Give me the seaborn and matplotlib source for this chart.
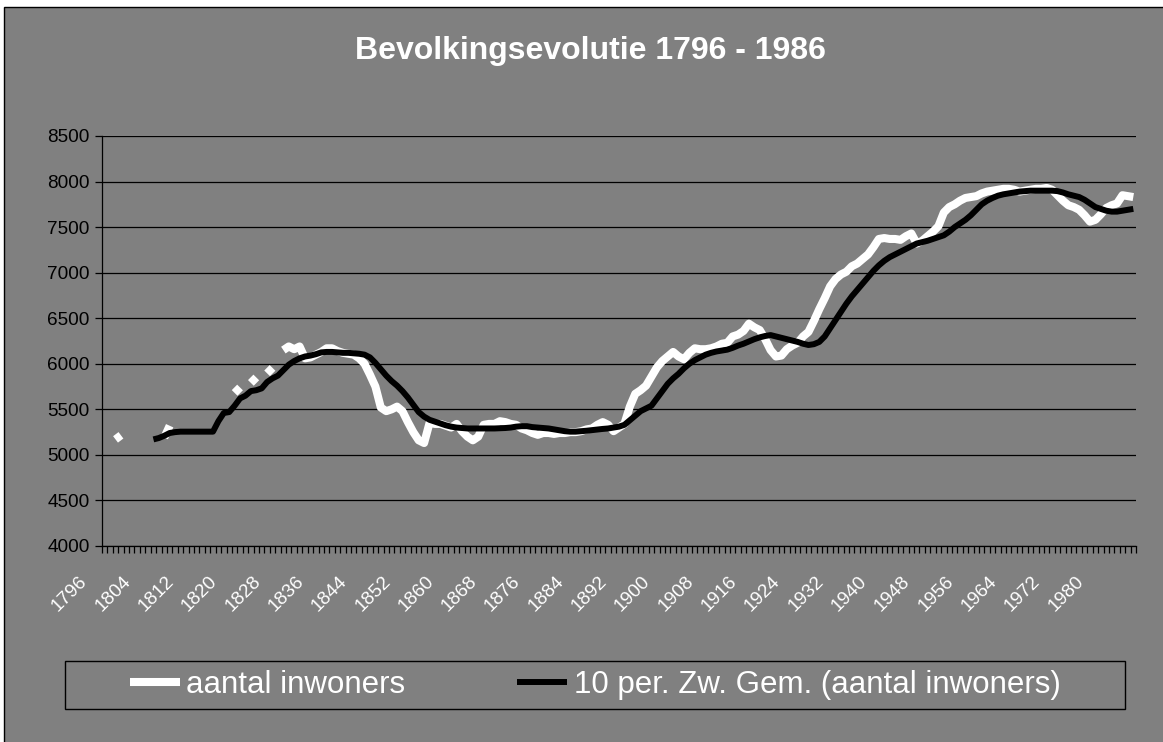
import matplotlib
matplotlib.use('Agg')
import matplotlib.pyplot as plt
from matplotlib.lines import Line2D
from matplotlib.patches import Rectangle
from matplotlib.transforms import ScaledTranslation
import numpy as np
import pandas as pd
import seaborn as sns

years = list(range(1796, 1987))

# aantal inwoners per jaar (None = geen waarde)
inwoners = [
    None, None, 5170, 5215, None, None, None, None, None, None,
    None, 5190, 5320, None, None, None, None, None, None, None,
    None, None, None, None, 5680, 5740, None, 5790, 5850, None,
    5895, 5955, None, 6150, 6190, 6160, 6190, 6060, 6070, 6100,
    6130, 6170, 6170, 6140, 6120, 6110, 6100, 6060, 6000, 5880,
    5750, 5520, 5480, 5500, 5530, 5480, 5360, 5250, 5160, 5130,
    5350, 5340, 5340, 5320, 5300, 5340, 5260, 5200, 5160, 5200,
    5330, 5340, 5340, 5370, 5360, 5340, 5330, 5290, 5270, 5240,
    5220, 5240, 5240, 5230, 5240, 5240, 5250, 5250, 5260, 5280,
    5290, 5330, 5360, 5330, 5260, 5300, 5340, 5530, 5670, 5710,
    5760, 5860, 5960, 6030, 6080, 6130, 6080, 6050, 6120, 6170,
    6160, 6160, 6170, 6190, 6220, 6230, 6300, 6320, 6360, 6440,
    6400, 6370, 6270, 6150, 6080, 6090, 6160, 6200, 6230, 6300,
    6350, 6470, 6600, 6720, 6850, 6930, 6980, 7010, 7070, 7100,
    7150, 7200, 7280, 7370, 7380, 7370, 7370, 7360, 7400, 7430,
    7320, 7350, 7400, 7450, 7510, 7660, 7720, 7750, 7790, 7820,
    7830, 7840, 7870, 7890, 7900, 7910, 7920, 7920, 7910, 7890,
    7900, 7910, 7920, 7920, 7930, 7910, 7850, 7790, 7740, 7720,
    7690, 7630, 7560, 7580, 7640, 7710, 7740, 7760, 7850, 7840, 7830,
]

# 10 per. zwevend gemiddelde
gemiddelde = [
    None, None, None, None, None, None, None, None, None, 5170,
    5185, 5210, 5240, 5250, 5255, 5255, 5255, 5255, 5255, 5255,
    5255, 5370, 5460, 5470, 5540, 5620, 5650, 5700, 5710, 5730,
    5800, 5840, 5870, 5930, 5990, 6030, 6060, 6080, 6090, 6105,
    6125, 6130, 6130, 6125, 6120, 6120, 6115, 6110, 6100, 6070,
    6010, 5940, 5870, 5810, 5760, 5700, 5630, 5550, 5470, 5420,
    5385, 5365, 5345, 5325, 5310, 5300, 5295, 5290, 5290, 5290,
    5290, 5290, 5290, 5292, 5295, 5300, 5310, 5315, 5315, 5305,
    5300, 5295, 5290, 5280, 5270, 5260, 5255, 5255, 5260, 5265,
    5272, 5280, 5285, 5290, 5300, 5310, 5330, 5380, 5430, 5480,
    5510, 5540, 5620, 5700, 5780, 5840, 5890, 5950, 6000, 6040,
    6070, 6100, 6120, 6135, 6145, 6155, 6175, 6200, 6220, 6245,
    6270, 6290, 6305, 6315, 6300, 6285, 6270, 6255, 6240, 6220,
    6206, 6215, 6240, 6300, 6390, 6480, 6570, 6660, 6740, 6810,
    6880, 6950, 7020, 7080, 7130, 7170, 7200, 7230, 7260, 7290,
    7320, 7335, 7350, 7370, 7390, 7410, 7450, 7500, 7540, 7580,
    7630, 7690, 7750, 7790, 7820, 7845, 7860, 7870, 7880, 7890,
    7895, 7900, 7900, 7900, 7900, 7900, 7895, 7880, 7860, 7845,
    7830, 7800, 7760, 7720, 7700, 7680, 7670, 7670, 7680, 7690, 7700,
]

label_years = years[::8]
y_ticks = list(range(4000, 8501, 500))

sns.set_theme(style='white')
plt.rcParams['font.family'] = ['Liberation Sans', 'DejaVu Sans']

W, H = 1163, 742
fig = plt.figure(figsize=(W / 100, H / 100), dpi=100)
fig.patch.set_facecolor('white')

# chart area (gray with black border, runs off the right/bottom)
fig.patches.append(Rectangle((4 / W, -0.1), 1.2, 1 - 7 / H + 0.1, transform=fig.transFigure,
                             facecolor='#808080', edgecolor='black', lw=1, zorder=-1))

ax = fig.add_axes([102 / W, 1 - 546 / H, (1136 - 102) / W, (546 - 136) / H])
ax.set_facecolor('none')

df = pd.DataFrame({'pos': np.arange(len(years)), 'jaar': years,
                   'inwoners': pd.array(inwoners, dtype='float'),
                   'gem': pd.array(gemiddelde, dtype='float')})

# split the raw series where years are missing so the gaps stay open
w = df.dropna(subset=['inwoners']).copy()
w['seg'] = (w['pos'].diff() != 1).cumsum()
sns.lineplot(data=w, x='pos', y='inwoners', units='seg', estimator=None, color='white',
             lw=5.8, solid_capstyle='butt', ax=ax, legend=False)

g = df.dropna(subset=['gem'])
sns.lineplot(data=g, x='pos', y='gem', color='black', lw=4.3, solid_capstyle='butt',
             ax=ax, legend=False)

ax.set_xlim(-0.5, len(years) - 0.5)
ax.set_ylim(4000, 8500)
ax.set_yticks(y_ticks)
ax.set_yticklabels([str(v) for v in y_ticks])
ax.yaxis.grid(True, color='black', lw=0.9)
ax.xaxis.grid(False)
ax.set_axisbelow(True)
ax.set_xlabel('')
ax.set_ylabel('')

for side in ['top', 'right']:
    ax.spines[side].set_visible(False)
for side in ['left', 'bottom']:
    ax.spines[side].set_color('black')
    ax.spines[side].set_linewidth(0.9)

ax.tick_params(axis='y', length=5, width=0.9, color='black', direction='out',
               labelsize=13.7, labelcolor='black', pad=4, left=True)

ax.set_xticks([years.index(y) for y in label_years])
ax.set_xticklabels([str(y) for y in label_years])
ax.set_xticks(np.arange(-0.5, len(years), 1), minor=True)
ax.tick_params(axis='x', which='major', length=0, pad=19.5, labelsize=13.7,
               labelcolor='white', bottom=True)
ax.tick_params(axis='x', which='minor', length=5, width=0.9, color='black',
               direction='out', bottom=True)
shift = ScaledTranslation(-14 / 100, 0, fig.dpi_scale_trans)
for lab in ax.get_xticklabels():
    lab.set_rotation(45)
    lab.set_ha('right')
    lab.set_transform(lab.get_transform() + shift)

fig.text(590 / W, 1 - 59 / H, 'Bevolkingsevolutie 1796 - 1986', ha='center', va='baseline',
         fontsize=23, fontweight='bold', color='white')

# legend box
fig.patches.append(Rectangle((64.5 / W, 1 - 709 / H), 1060.5 / W, 48 / H,
                             transform=fig.transFigure, facecolor='none',
                             edgecolor='black', lw=1, zorder=1))
handles = [Line2D([], [], color='white', lw=5.8, solid_capstyle='butt'),
           Line2D([], [], color='black', lw=4.3, solid_capstyle='butt')]
fig.legend(handles, ['aantal inwoners', '10 per. Zw. Gem. (aantal inwoners)'],
           loc='center', bbox_to_anchor=(595 / W, 1 - 685 / H), ncol=2, frameon=False,
           fontsize=22.5, handlelength=1.6, handletextpad=0.2, columnspacing=3.6,
           labelcolor='white')

fig.savefig('out.png', dpi=100, facecolor=fig.get_facecolor())
